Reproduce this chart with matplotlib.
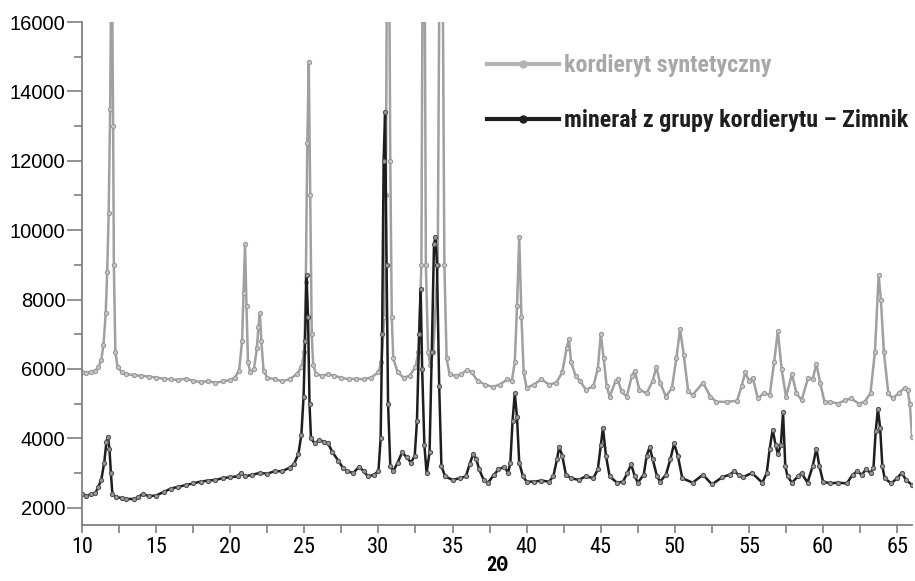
import numpy as np
import matplotlib
matplotlib.use("Agg")
import matplotlib.pyplot as plt
from matplotlib.lines import Line2D
from matplotlib.ticker import MultipleLocator

# synthetic cordierite (grey curve)
synth_2theta = [10.0, 10.3, 10.6, 10.9, 11.1, 11.3, 11.45, 11.6, 11.7, 11.8, 11.9, 12.0, 12.1, 12.15,
                12.25, 12.4, 12.7, 13.0, 13.5, 14.0, 14.5, 15.0, 15.5, 16.0, 16.5, 17.0, 17.5, 18.0,
                18.5, 19.0, 19.5, 20.0, 20.3, 20.6, 20.8, 20.9, 21.0, 21.1, 21.2, 21.35, 21.6, 21.8,
                21.9, 22.0, 22.1, 22.25, 22.5, 23.0, 23.5, 24.0, 24.5, 24.8, 25.0, 25.1, 25.2, 25.3,
                25.4, 25.5, 25.6, 25.8, 26.2, 26.6, 27.0, 27.5, 28.0, 28.5, 29.0, 29.5, 30.0, 30.2,
                30.4, 30.5, 30.6, 30.7, 30.8, 30.9, 31.0, 31.3, 31.7, 32.1, 32.5, 32.7, 32.9, 33.0,
                33.1, 33.2, 33.35, 33.5, 33.7, 34.0, 34.15, 34.3, 34.45, 34.6, 34.8, 35.2, 35.6, 36.0,
                36.3, 36.7, 37.2, 37.7, 38.2, 38.7, 39.0, 39.2, 39.35, 39.5, 39.65, 39.8, 40.0, 40.5,
                41.0, 41.5, 42.0, 42.4, 42.7, 42.85, 43.0, 43.3, 43.6, 44.0, 44.5, 44.8, 45.0, 45.2,
                45.4, 45.6, 46.0, 46.15, 46.4, 46.75, 47.1, 47.3, 47.6, 48.1, 48.5, 48.75, 49.0, 49.4,
                49.8, 50.1, 50.35, 50.6, 50.9, 51.2, 51.9, 52.4, 52.8, 53.5, 54.2, 54.5, 54.75, 55.0,
                55.25, 55.6, 56.0, 56.4, 56.7, 56.95, 57.2, 57.5, 57.9, 58.2, 58.55, 59.0, 59.3, 59.55,
                59.8, 60.1, 60.5, 61.0, 61.5, 61.9, 62.4, 62.8, 63.2, 63.5, 63.75, 63.9, 64.1, 64.4,
                64.7, 65.1, 65.5, 65.7, 65.85, 66.0]
synth_counts = [5900, 5880, 5920, 5950, 6050, 6250, 6700, 7600, 8800, 10500, 13500, 19000, 13000, 9000,
                6500, 6050, 5900, 5850, 5820, 5800, 5780, 5750, 5720, 5700, 5680, 5720, 5660, 5620,
                5650, 5600, 5640, 5680, 5750, 5950, 6800, 8200, 9600, 7800, 6200, 5900, 6000, 6600,
                7200, 7600, 6800, 5950, 5750, 5700, 5650, 5700, 5850, 6050, 6500, 8500, 12500, 14850,
                11000, 7000, 6100, 5850, 5800, 5850, 5800, 5750, 5700, 5720, 5700, 5750, 5900, 6200,
                7500, 11000, 20000, 20000, 12000, 7500, 6300, 5900, 5750, 5800, 6050, 6500, 9000, 20000,
                20000, 9000, 6500, 6100, 6500, 9000, 20000, 20000, 9000, 6300, 5850, 5800, 5850, 5980,
                5900, 5650, 5550, 5480, 5550, 5700, 5650, 6200, 7800, 9800, 7500, 5900, 5450, 5550,
                5700, 5550, 5600, 5900, 6600, 6850, 6200, 5800, 5650, 5400, 5500, 6000, 7000, 6300,
                5500, 5200, 5650, 5700, 5350, 5200, 5800, 5950, 5400, 5300, 5650, 6050, 5600, 5200,
                5450, 6300, 7150, 6400, 5350, 5250, 5600, 5200, 5050, 5050, 5080, 5500, 5900, 5650,
                5750, 5150, 5300, 5250, 6200, 7100, 6000, 5200, 5850, 5300, 5100, 5750, 5700, 6150,
                5600, 5050, 5050, 5000, 5100, 5150, 5000, 5050, 5300, 6500, 8700, 8000, 6500, 5300,
                5150, 5300, 5450, 5400, 5000, 4050]

# cordierite-group mineral, Zimnik (dark curve)
zimnik_2theta = [10.0, 10.3, 10.6, 10.9, 11.1, 11.3, 11.5, 11.65, 11.75, 11.85, 11.95, 12.05, 12.3, 12.7,
                 13.0, 13.5, 13.8, 14.1, 14.5, 15.0, 15.5, 16.0, 16.5, 17.0, 17.5, 18.0, 18.5, 19.0,
                 19.5, 20.0, 20.5, 20.7, 21.0, 21.5, 22.0, 22.5, 23.0, 23.5, 24.0, 24.3, 24.6, 24.8,
                 24.95, 25.05, 25.15, 25.25, 25.35, 25.45, 25.7, 26.0, 26.3, 26.6, 26.9, 27.3, 27.6, 27.9,
                 28.3, 28.7, 29.0, 29.3, 29.7, 30.0, 30.15, 30.25, 30.35, 30.45, 30.55, 30.65, 30.8, 31.0,
                 31.3, 31.6, 31.9, 32.2, 32.45, 32.6, 32.75, 32.85, 32.95, 33.1, 33.25, 33.45, 33.6, 33.75,
                 33.85, 33.95, 34.1, 34.25, 34.5, 35.0, 35.5, 35.9, 36.15, 36.4, 36.6, 36.8, 37.1, 37.4,
                 37.8, 38.1, 38.5, 38.75, 38.9, 39.05, 39.2, 39.35, 39.5, 39.75, 40.0, 40.5, 41.0, 41.5,
                 41.8, 42.05, 42.2, 42.4, 42.65, 43.0, 43.5, 44.0, 44.5, 44.8, 45.0, 45.15, 45.35, 45.6,
                 46.1, 46.5, 46.8, 47.05, 47.3, 47.5, 47.9, 48.1, 48.3, 48.5, 48.8, 49.0, 49.4, 49.7,
                 49.95, 50.2, 50.5, 51.2, 51.9, 52.5, 53.2, 53.7, 54.0, 54.3, 54.6, 55.2, 55.9, 56.2,
                 56.4, 56.6, 56.8, 56.95, 57.15, 57.3, 57.45, 57.6, 57.9, 58.3, 58.55, 58.95, 59.3, 59.55,
                 59.75, 60.0, 60.5, 61.0, 61.6, 62.0, 62.3, 62.6, 62.9, 63.2, 63.4, 63.55, 63.7, 63.85,
                 64.0, 64.15, 64.6, 65.0, 65.3, 65.6, 66.0]
zimnik_counts = [2400, 2350, 2380, 2420, 2600, 2800, 3300, 3900, 4050, 3700, 3000, 2400, 2300, 2280,
                 2250, 2250, 2300, 2400, 2330, 2350, 2450, 2550, 2600, 2650, 2700, 2750, 2780, 2800,
                 2850, 2880, 2900, 3000, 2900, 2950, 3000, 2980, 3050, 3050, 3150, 3250, 3550, 4100,
                 5200, 6800, 8700, 7500, 5000, 4000, 3850, 3950, 3900, 3850, 3600, 3350, 3150, 3050,
                 3000, 3180, 3050, 2900, 2950, 3050, 4000, 7000, 12000, 13400, 9000, 5000, 3200, 3050,
                 3300, 3600, 3450, 3300, 3500, 4500, 7000, 8300, 6000, 3800, 3000, 3600, 6500, 9600,
                 9800, 9000, 5500, 3200, 2900, 2800, 2850, 2900, 3250, 3550, 3400, 3100, 2800, 2720,
                 2950, 3100, 3180, 3000, 3300, 4500, 5300, 4600, 3300, 2900, 2750, 2750, 2780, 2750,
                 2900, 3400, 3750, 3500, 2950, 2850, 2800, 2900, 2850, 3100, 3800, 4300, 3500, 2900,
                 2720, 2750, 3000, 3250, 2900, 2720, 2950, 3500, 3750, 3400, 2900, 2750, 2950, 3400,
                 3850, 3500, 2850, 2720, 2950, 2670, 2880, 2950, 3050, 2950, 2880, 3000, 2720, 3000,
                 3700, 4250, 3800, 3550, 3800, 4750, 3200, 2900, 2720, 2900, 3000, 2720, 3200, 3700,
                 3200, 2750, 2700, 2720, 2700, 2950, 3050, 2950, 3100, 3000, 3150, 4200, 4850, 4300,
                 3200, 2850, 2700, 2850, 3000, 2800, 2650]

labels = ["kordieryt syntetyczny", "minerał z grupy kordierytu – Zimnik"]

narrow = ["Roboto Condensed", "PT Sans Narrow", "Asap Condensed", "Barlow Condensed", "DejaVu Sans"]
regular = ["Liberation Sans", "DejaVu Sans"]

grey = "#a0a0a0"
dark = "#1e1e1e"
axis_col = "#808080"

fig = plt.figure(figsize=(9.15, 5.81), dpi=100)
ax = fig.add_axes([82 / 915, 56 / 581, 830 / 915, 503 / 581])

ax.plot(synth_2theta, synth_counts, color=grey, lw=1.8, marker="o", ms=3.0,
        mfc="#c8c8c8", mec="#9a9a9a", mew=0.8)
ax.plot(zimnik_2theta, zimnik_counts, color=dark, lw=1.8, marker="o", ms=3.0,
        mfc="#9a9a9a", mec="#555555", mew=0.8)

ax.set_xlim(10, 66)
ax.set_ylim(1500, 16000)

for side in ["top", "right"]:
    ax.spines[side].set_visible(False)
for side in ["left", "bottom"]:
    ax.spines[side].set_color(axis_col)
    ax.spines[side].set_linewidth(1.3)

ax.xaxis.set_major_locator(MultipleLocator(5))
ax.xaxis.set_minor_locator(MultipleLocator(2.5))
ax.set_yticks(np.arange(2000, 16001, 2000))
ax.yaxis.set_minor_locator(MultipleLocator(1000))

ax.tick_params(axis="y", which="major", direction="out", length=11, width=1.2,
               color=axis_col, pad=1, labelsize=14.5)
ax.tick_params(axis="y", which="minor", direction="out", length=5.5, width=1.2, color=axis_col)
ax.tick_params(axis="x", which="both", direction="out", length=5.5, width=1.2,
               color=axis_col, pad=3, labelsize=16)
for t in ax.get_yticklabels():
    t.set_fontfamily(regular)
for t in ax.get_xticklabels():
    t.set_fontfamily(narrow)

ax.set_xlabel("2Θ", fontfamily=narrow, fontweight="bold", fontsize=14.5, labelpad=-1)

handles = [
    Line2D([], [], color="#b4b4b4", lw=3, marker="o", ms=5, mfc="#b4b4b4", mec="#b4b4b4"),
    Line2D([], [], color=dark, lw=3, marker="o", ms=5, mfc=dark, mec=dark),
]
leg = ax.legend(handles, labels, loc="upper left", bbox_to_anchor=(487 / 915, 1 - 54 / 581),
                bbox_transform=fig.transFigure, frameon=False, borderpad=0, borderaxespad=0,
                handlelength=3.0, handletextpad=0.22, labelspacing=1.35, numpoints=1,
                prop={"family": narrow, "weight": "bold", "size": 17.3})
leg.get_texts()[0].set_color("#a8a8a8")
leg.get_texts()[1].set_color(dark)

fig.savefig("out.png", dpi=100)
